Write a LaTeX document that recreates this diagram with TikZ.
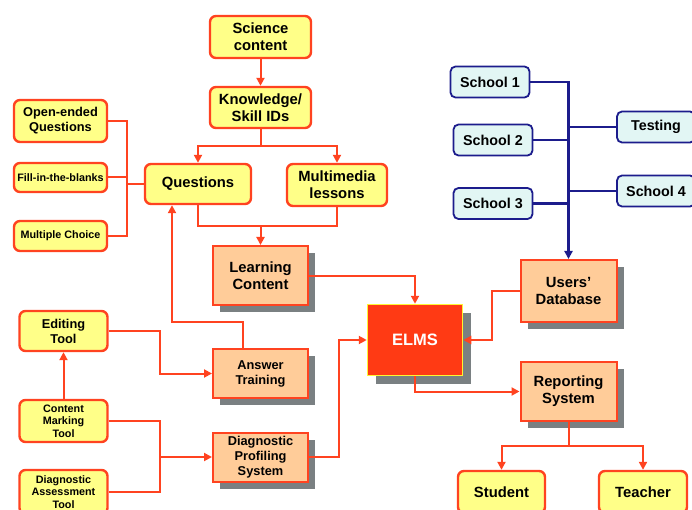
\documentclass[tikz,border=0pt]{standalone}
\usepackage{fontspec}
\setmainfont{Liberation Sans}
\usetikzlibrary{arrows.meta,shadows}
\definecolor{edgered}{HTML}{FF4320}
\definecolor{noteyellow}{HTML}{FFFF88}
\definecolor{peach}{HTML}{FFCC99}
\definecolor{elmsred}{HTML}{FF3A14}
\definecolor{shadowgray}{HTML}{7A8082}
\definecolor{schoolfill}{HTML}{E2F6F4}
\definecolor{navy}{HTML}{1C1C8C}

\tikzset{
	bigtext/.style={font=\bfseries\fontsize{14.8}{17}\selectfont},
	midtext/.style={font=\bfseries\fontsize{12.8}{15}\selectfont},
	smalltext/.style={font=\bfseries\fontsize{10.8}{12.5}\selectfont},
	link/.style={draw=edgered, line width=2pt},
	blink/.style={draw=navy, line width=2.4pt},
}

\begin{document}
\begin{tikzpicture}[x=1pt, y=-1pt, >={Triangle[length=8pt,width=8pt]}]
		\useasboundingbox (0,0) rectangle (692,510);
		% yellow note boxes
		\begin{scope}[every node/.style={rectangle, rounded corners=6pt, draw=edgered, line width=2.4pt, fill=noteyellow, align=center, inner sep=0pt}]
			\node[bigtext, minimum width=101pt, minimum height=42pt] (sci) at (260.5,37) {Science\\content};
			\node[bigtext, minimum width=101pt, minimum height=41pt] (know) at (260.5,107.5) {Knowledge/\\Skill IDs};
			\node[bigtext, minimum width=106pt, minimum height=40pt] (ques) at (198,184) {Questions};
			\node[bigtext, minimum width=100pt, minimum height=42pt] (multi) at (337,185) {Multimedia\\lessons};
			\node[midtext, minimum width=93pt, minimum height=42pt] (open) at (60.5,121) {Open-ended\\Questions};
			\node[smalltext, minimum width=93pt, minimum height=29pt] (fill) at (60.5,177.5) {Fill-in-the-blanks};
			\node[smalltext, minimum width=93pt, minimum height=30pt] (multch) at (60.5,236) {Multiple Choice};
			\node[midtext, minimum width=88pt, minimum height=40pt] (edit) at (63.5,331) {Editing\\Tool};
			\node[smalltext, minimum width=88pt, minimum height=42pt] (cmark) at (63.5,421) {Content\\Marking\\Tool};
			\node[smalltext, minimum width=88pt, minimum height=44pt] (dassess) at (63.5,492) {Diagnostic\\Assessment\\Tool};
			\node[bigtext, minimum width=87pt, minimum height=42pt] (student) at (501.5,492) {Student};
			\node[bigtext, minimum width=88pt, minimum height=42pt] (teacher) at (643,492) {Teacher};
		\end{scope}
		% peach system boxes
		\begin{scope}[every node/.style={rectangle, draw=edgered, line width=2pt, fill=peach, align=center, inner sep=0pt,
				drop shadow={shadow xshift=7pt, shadow yshift=-7pt, fill=shadowgray, opacity=1}}]
			\node[bigtext, minimum width=95pt, minimum height=59pt] (learn) at (260.5,275.5) {Learning\\Content};
			\node[midtext, minimum width=95pt, minimum height=49pt] (answer) at (260.5,373.5) {Answer\\Training};
			\node[midtext, minimum width=95pt, minimum height=49pt] (diagp) at (260.5,457) {Diagnostic\\Profiling\\System};
			\node[bigtext, minimum width=96pt, minimum height=62pt] (users) at (568.5,291) {Users'\\Database};
			\node[bigtext, minimum width=96pt, minimum height=59pt] (report) at (568.5,391.5) {Reporting\\System};
		\end{scope}
		\node[rectangle, draw=yellow!80!white, line width=1.5pt, fill=elmsred, text=white, inner sep=0pt,
			minimum width=95pt, minimum height=71pt, font=\bfseries\fontsize{16.5}{19}\selectfont,
			drop shadow={shadow xshift=8pt, shadow yshift=-8pt, fill=shadowgray, opacity=1}] (elms) at (415,340) {ELMS};
		% school boxes
		\begin{scope}[every node/.style={rectangle, rounded corners=5pt, draw=navy, line width=1.8pt, fill=schoolfill, inner sep=0pt,
				minimum height=31pt, font=\bfseries\fontsize{14.3}{17}\selectfont}]
			\node[minimum width=79pt] (s1) at (490,82) {School 1};
			\node[minimum width=79pt] (s2) at (493,140) {School 2};
			\node[minimum width=79pt] (s3) at (493,203.5) {School 3};
			\node[minimum width=78pt] (test) at (656,127) {Testing};
			\node[minimum width=78pt] (s4) at (656,191) {School 4};
		\end{scope}

		\coordinate (ks) at (260.5,146);
		\coordinate (qm) at (260.5,226);
		\coordinate (bq) at (127,184);
		\coordinate (rs) at (568.5,446);

		% content side
		\draw[link,->] (sci) -- (know);
		\draw[link,->] (know) -- (ks) -| (ques);
		\draw[link,->] (ks) -| (multi);
		\draw[link] (ques) |- (qm) -| (multi);
		\draw[link,->] (qm) -- (learn);
		\draw[link] (open.east) -| (bq) |- (multch.east);
		\draw[link] (fill.east) -- (fill.east -| bq);
		\draw[link] (bq) -- (ques.west);
		\draw[link,->] ([xshift=-18pt]answer.north) -- ++(0,-26) -| ([xshift=-26pt]ques.south);
		\draw[link,->] (edit.east) -- ++(51,0) |- (answer.west);
		\draw[link,->] (cmark) -- (edit);
		\draw[link] (cmark.east) -- ++(51,0) |- (dassess.east);
		\draw[link,->] (cmark.east -| 160,0) |- (diagp.west);
		% into and out of ELMS
		\draw[link,->] (learn.east) -| (elms.north);
		\draw[link,->] (diagp.east) -- ++(30,0) |- (elms.west);
		\draw[link,->] (users.west) -- ++(-28,0) |- (elms.east);
		\draw[link,->] (elms.south) |- (report.west);
		\draw[link,->] (report) -- (rs) -| (student);
		\draw[link,->] (rs) -| (teacher);
		% schools
		\draw[blink,->] (s1.east) -| (users.north);
		\draw[blink] (s2.east) -- (s2.east -| users.north);
		\draw[blink] (s3.east) -- (s3.east -| users.north);
		\draw[blink] (test.west) -- (test.west -| users.north);
		\draw[blink] (s4.west) -- (s4.west -| users.north);
	\end{tikzpicture}
\end{document}
